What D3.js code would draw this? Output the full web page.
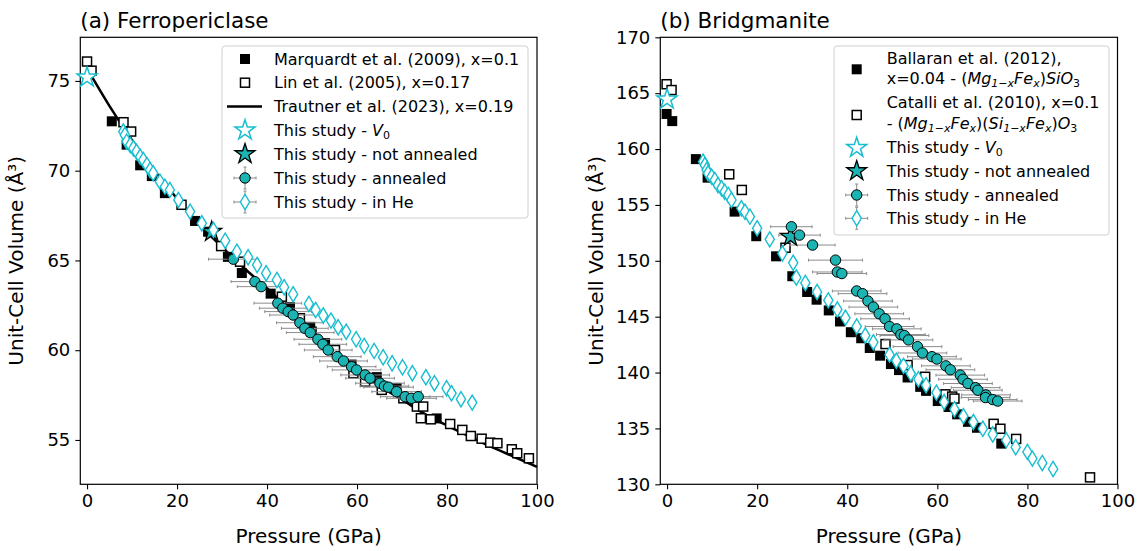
<!doctype html>
<html>
<head>
<meta charset="utf-8">
<script src="https://cdn.jsdelivr.net/npm/d3@7"></script>
<style>
  body { margin: 0; background: #fff; }
  svg { font-family: "DejaVu Sans", sans-serif; }
</style>
</head>
<body>
<svg id="chart" width="1143" height="551"></svg>
<script>
// ---------- (a) Ferropericlase ----------
const marqP = [5.5, 8.8, 11.8, 14.4, 17.3, 24.0, 26.9, 31.3, 34.4, 40.8, 45.1, 49.6, 52.9, 58.8, 64.4, 68.8, 77.7];
const marqV = [72.75, 71.45, 70.3, 69.7, 68.75, 67.2, 66.6, 65.2, 64.3, 63.15, 62.4, 61.3, 60.4, 59.2, 58.5, 57.9, 56.2];

const linP = [0, 1.0, 8.1, 9.8, 21.0, 29.8, 34.0, 43.3, 47.3, 49.9, 55.1, 59.2, 61.8, 65.5, 70.3, 73.3, 74.7, 74.2, 76.4, 80.7, 83.4, 85.3, 87.7, 89.6, 91.2, 94.4, 95.6, 98.2];
const linV = [76.08, 75.57, 72.7, 72.18, 68.1, 65.8, 64.93, 62.98, 61.78, 61.03, 60.01, 58.72, 58.25, 57.79, 57.32, 56.86, 56.86, 56.21, 56.15, 55.89, 55.56, 55.22, 55.07, 54.85, 54.82, 54.48, 54.26, 53.98];

const trautP = [0, 5, 10, 15, 20, 25, 30, 35, 40, 45, 50, 55, 60, 65, 70, 75, 80, 85, 90, 95, 100];
const trautV = [75.7, 73.6, 71.7, 70.0, 68.45, 67.0, 65.75, 64.55, 63.45, 62.25, 61.05, 59.9, 58.85, 58.0, 57.25, 56.45, 55.8, 55.2, 54.6, 54.05, 53.5];

const fpV0P = [0], fpV0V = [75.2];
const fpNaP = [27.7], fpNaV = [66.6];

const fpAnnP = [32.5, 37.3, 38.7, 42.4, 43.5, 44.7, 45.8, 47.3, 48.4, 49.6, 51.3, 52.4, 53.6, 55.6, 57.0, 58.8, 59.9, 61.8, 62.9, 65.1, 66.1, 67.0, 68.8, 70.7, 72.1, 73.6];
const fpAnnV = [65.07, 63.82, 63.54, 62.62, 62.34, 62.15, 61.96, 61.53, 61.22, 60.98, 60.61, 60.33, 60.01, 59.64, 59.40, 59.08, 58.90, 58.62, 58.44, 58.16, 58.0, 57.94, 57.69, 57.41, 57.32, 57.41];
const fpAnnErr = [5.5, 5.3, 5.3, 5.3, 5.2, 5.2, 5.2, 5.2, 5.2, 5.3, 5.3, 5.3, 5.3, 5.3, 5.3, 5.4, 5.4, 5.4, 5.4, 5.4, 5.4, 5.5, 5.5, 5.5, 5.5, 5.5];

const fpHeP = [8.07, 8.4, 8.8, 9.6, 10.3, 11.0, 11.8, 12.5, 13.3, 14.0, 14.7, 16.2, 17.3, 18.4, 20.3, 22.9, 25.5, 28.1, 30.7, 33.3, 35.8, 37.8, 39.8, 42.2, 43.8, 45.8, 49.3, 50.8, 52.5, 54.2, 55.8, 57.6, 59.8, 61.6, 63.8, 65.8, 67.8, 70.1, 72.3, 75.3, 77.2, 79.9, 81.0, 83.1, 85.6];
const fpHeV = [72.18, 71.99, 71.62, 71.43, 71.25, 71.06, 70.78, 70.60, 70.32, 70.04, 69.86, 69.39, 69.11, 68.93, 68.37, 67.72, 67.07, 66.70, 66.1, 65.49, 65.18, 64.75, 64.29, 63.91, 63.51, 63.12, 62.58, 62.24, 61.93, 61.65, 61.28, 61.03, 60.61, 60.24, 59.96, 59.61, 59.27, 59.05, 58.72, 58.49, 58.16, 57.88, 57.60, 57.27, 57.08];

// ---------- (b) Bridgmanite ----------
const balP = [-0.1, 1.15, 6.4, 9.0, 15.0, 19.8, 24.2, 27.8, 31.1, 33.2, 35.9, 38.4, 40.8, 43.1, 45.0, 47.3, 49.7, 51.5, 53.4, 56.2, 57.5, 60.1, 62.5, 64.4, 66.8, 68.8, 74.2];
const balV = [163.14, 162.5, 159.1, 157.44, 154.4, 152.2, 150.4, 148.62, 147.21, 146.52, 145.56, 144.57, 143.61, 143.07, 142.2, 141.51, 140.76, 140.22, 139.56, 138.72, 138.36, 137.45, 136.92, 136.26, 135.59, 135.06, 133.64];

const catP = [-0.1, 1.0, 13.8, 16.6, 26.3, 48.5, 53.4, 57.3, 61.8, 63.3, 63.8, 72.5, 74.0, 77.5, 93.9];
const catV = [165.8, 165.28, 157.74, 156.34, 151.17, 142.55, 140.67, 139.62, 138.05, 137.85, 137.67, 135.41, 134.97, 134.06, 130.62];

const bmV0P = [0], bmV0V = [164.45];
const bmNaP = [27.4], bmNaV = [152.16];

const bmAnnP = [27.6, 29.4, 32.3, 37.4, 37.8, 38.8, 42.1, 43.4, 44.6, 45.8, 47.1, 48.4, 49.4, 51.0, 51.9, 52.7, 53.6, 55.6, 56.7, 58.8, 59.9, 61.9, 62.9, 65.1, 65.7, 66.8, 68.5, 69.0, 70.8, 70.7, 72.3, 73.4];
const bmAnnV = [153.05, 152.3, 151.41, 150.06, 149.0, 148.86, 147.3, 147.06, 146.4, 145.86, 145.26, 144.81, 144.12, 143.91, 143.4, 143.31, 142.92, 142.32, 141.75, 141.42, 141.21, 140.6, 140.25, 139.77, 139.4, 139.02, 138.65, 138.42, 138.0, 137.76, 137.58, 137.45];
const bmAnnErr = [4.6, 4.6, 5.0, 6.0, 5.5, 5.5, 5.4, 5.4, 5.4, 5.4, 5.4, 5.4, 5.4, 5.4, 5.4, 5.4, 5.4, 5.4, 5.4, 5.4, 5.4, 5.4, 5.4, 5.4, 5.4, 5.4, 5.4, 5.4, 5.4, 5.4, 5.4, 5.4];

const bmHeP = [8.0, 8.4, 8.8, 9.1, 9.9, 10.6, 11.3, 12.1, 12.8, 13.6, 14.3, 16.5, 17.3, 18.4, 20.0, 22.8, 25.6, 28.0, 28.7, 30.7, 33.3, 35.8, 37.8, 39.6, 42.1, 44.0, 45.8, 49.4, 50.9, 52.5, 54.1, 55.8, 57.5, 59.8, 61.5, 63.8, 65.8, 68.0, 70.1, 72.3, 75.3, 77.4, 80.0, 81.1, 83.3, 85.7];
const bmHeV = [158.87, 158.57, 158.13, 157.83, 157.53, 157.23, 156.78, 156.49, 156.18, 155.89, 155.44, 154.70, 154.39, 153.95, 152.91, 151.92, 150.66, 149.82, 148.5, 148.02, 147.21, 146.46, 145.65, 144.9, 144.12, 143.31, 142.71, 141.6, 141.06, 140.6, 139.91, 139.4, 138.87, 138.2, 137.36, 136.71, 136.1, 135.57, 134.97, 134.46, 133.95, 133.32, 132.9, 132.3, 131.91, 131.37];

const xTicks = [0, 20, 40, 60, 80, 100];
const yTicksA = [55, 60, 65, 70, 75];
const yTicksB = [130, 135, 140, 145, 150, 155, 160, 165, 170];

const CYAN = "#17becf", TEAL = "#1cb3b3", GREY = "#8c8c8c";

const svg = d3.select("#chart");
const zip = (a, b, c) => a.map((p, i) => ({p: p, v: b[i], e: c ? c[i] : 0}));

function starPath(R) {
  const r = R * 0.382, pts = [];
  for (let k = 0; k < 10; k++) {
    const ang = -Math.PI / 2 + k * Math.PI / 5, rr = k % 2 ? r : R;
    pts.push([rr * Math.cos(ang), rr * Math.sin(ang)]);
  }
  return "M" + pts.map(d => d[0].toFixed(2) + "," + d[1].toFixed(2)).join("L") + "Z";
}
const diamondPath = (w, h) => `M0,${-h}L${w},0L0,${h}L${-w},0Z`;

function marker(g, type, x, y) {
  if (type === "fsq") g.append("rect").attr("x", x - 5).attr("y", y - 5).attr("width", 10).attr("height", 10).attr("fill", "#000");
  if (type === "osq") g.append("rect").attr("x", x - 4.5).attr("y", y - 4.5).attr("width", 9).attr("height", 9).attr("fill", "#fff").attr("stroke", "#000").attr("stroke-width", 1.5);
  if (type === "v0") g.append("path").attr("d", starPath(10.5)).attr("transform", `translate(${x},${y})`).attr("fill", "#fff").attr("stroke", CYAN).attr("stroke-width", 1.5);
  if (type === "na") g.append("path").attr("d", starPath(10.5)).attr("transform", `translate(${x},${y})`).attr("fill", TEAL).attr("stroke", "#000").attr("stroke-width", 1.3);
  if (type === "ann") g.append("circle").attr("cx", x).attr("cy", y).attr("r", 5.2).attr("fill", TEAL).attr("stroke", "#000").attr("stroke-width", 1);
  if (type === "he") g.append("path").attr("d", diamondPath(4.6, 7.6)).attr("transform", `translate(${x},${y})`).attr("fill", "#fff").attr("stroke", CYAN).attr("stroke-width", 1.4);
}

function errbars(g, pts, x, y) {
  pts.forEach(d => {
    if (!d.e) return;
    const x0 = x(d.p - d.e), x1 = x(d.p + d.e), yy = y(d.v);
    g.append("line").attr("x1", x0).attr("x2", x1).attr("y1", yy).attr("y2", yy).attr("stroke", GREY).attr("stroke-width", 1);
    [x0, x1].forEach(xx => g.append("line").attr("x1", xx).attr("x2", xx).attr("y1", yy - 1.5).attr("y2", yy + 1.5).attr("stroke", GREY).attr("stroke-width", 1));
  });
}

function scatter(g, pts, type, x, y) {
  pts.forEach(d => marker(g, type, x(d.p), y(d.v)));
}

function axes(x, y, yTicks, title, left, top, right, bottom) {
  const g = svg.append("g");
  g.append("g").attr("transform", `translate(0,${bottom})`)
    .call(d3.axisBottom(x).tickValues(xTicks).tickSize(5).tickPadding(5).tickFormat(d3.format("d")));
  g.append("g").attr("transform", `translate(${left},0)`)
    .call(d3.axisLeft(y).tickValues(yTicks).tickSize(5).tickPadding(5).tickFormat(d3.format("d")));
  g.selectAll(".domain").remove();
  g.selectAll(".tick line").attr("stroke", "#000").attr("stroke-width", 1.1);
  g.selectAll(".tick text").attr("font-size", 18).attr("font-family", "DejaVu Sans").attr("fill", "#000");
  g.append("rect").attr("x", left).attr("y", top).attr("width", right - left).attr("height", bottom - top)
    .attr("fill", "none").attr("stroke", "#000").attr("stroke-width", 1.2);
  g.append("text").attr("x", left).attr("y", 28).attr("font-size", 21.5).text(title);
  g.append("text").attr("x", (left + right) / 2).attr("y", 543).attr("text-anchor", "middle").attr("font-size", 20).text("Pressure (GPa)");
  g.append("text").attr("transform", `translate(${left - 57},${(top + bottom) / 2}) rotate(-90)`)
    .attr("text-anchor", "middle").attr("font-size", 20).text("Unit-Cell Volume (Å³)");
}

function richText(g, x, y, parts) {
  const t = g.append("text").attr("x", x).attr("y", y).attr("font-size", 16);
  parts.forEach(p => {
    const s = t.append("tspan").text(p.t);
    if (p.i) s.attr("font-style", "italic");
    if (p.sub) s.attr("font-size", 11).attr("dy", 3);
    if (p.up) s.attr("dy", -3);
  });
}

function legend(box, hx, tx, items) {
  const g = svg.append("g");
  g.append("rect").attr("x", box[0]).attr("y", box[1]).attr("width", box[2] - box[0]).attr("height", box[3] - box[1])
    .attr("rx", 3).attr("fill", "#fff").attr("fill-opacity", 0.85).attr("stroke", "#d0d0d0").attr("stroke-width", 1);
  items.forEach(it => {
    if (it.type === "line") {
      g.append("line").attr("x1", hx - 18).attr("x2", hx + 17).attr("y1", it.y).attr("y2", it.y).attr("stroke", "#000").attr("stroke-width", 2.5);
    } else {
      if (it.err) {
        g.append("line").attr("x1", hx - 11).attr("x2", hx + 11).attr("y1", it.y).attr("y2", it.y).attr("stroke", GREY);
        g.append("line").attr("x1", hx).attr("x2", hx).attr("y1", it.y - 11).attr("y2", it.y + 11).attr("stroke", GREY);
        [-11, 11].forEach(o => g.append("line").attr("x1", hx + o).attr("x2", hx + o).attr("y1", it.y - 1.5).attr("y2", it.y + 1.5).attr("stroke", GREY));
        [-11, 11].forEach(o => g.append("line").attr("x1", hx - 1.5).attr("x2", hx + 1.5).attr("y1", it.y + o).attr("y2", it.y + o).attr("stroke", GREY));
      }
      marker(g, it.type, hx, it.y);
    }
    it.lines.forEach(ln => richText(g, tx, ln.y, ln.parts));
  });
}

// ----- panel a -----
const xa = d3.scaleLinear().domain([-1.5, 100]).range([80.3, 537]);
const ya = d3.scaleLinear().domain([52.53, 77.43]).range([484.3, 37.3]);
axes(xa, ya, yTicksA, "(a) Ferropericlase", 80.3, 37.3, 537, 484.3);

const ga = svg.append("g");
ga.append("path").datum(zip(trautP, trautV))
  .attr("d", d3.line().x(d => xa(d.p)).y(d => ya(d.v)).curve(d3.curveMonotoneX))
  .attr("fill", "none").attr("stroke", "#000").attr("stroke-width", 2.5);
scatter(ga, zip(marqP, marqV), "fsq", xa, ya);
scatter(ga, zip(linP, linV), "osq", xa, ya);
scatter(ga, zip(fpV0P, fpV0V), "v0", xa, ya);
scatter(ga, zip(fpNaP, fpNaV), "na", xa, ya);
errbars(ga, zip(fpAnnP, fpAnnV, fpAnnErr), xa, ya);
scatter(ga, zip(fpAnnP, fpAnnV), "ann", xa, ya);
scatter(ga, zip(fpHeP, fpHeV), "he", xa, ya);

legend([222, 46, 528, 218], 245, 274, [
  {type: "fsq", y: 59, lines: [{y: 64.5, parts: [{t: "Marquardt et al. (2009), x=0.1"}]}]},
  {type: "osq", y: 82.7, lines: [{y: 88.2, parts: [{t: "Lin et al. (2005), x=0.17"}]}]},
  {type: "line", y: 106.5, lines: [{y: 112, parts: [{t: "Trautner et al. (2023), x=0.19"}]}]},
  {type: "v0", y: 130.3, lines: [{y: 135.8, parts: [{t: "This study - "}, {t: "V", i: true}, {t: "0", sub: true}]}]},
  {type: "na", y: 154, lines: [{y: 159.5, parts: [{t: "This study - not annealed"}]}]},
  {type: "ann", err: true, y: 178, lines: [{y: 183.5, parts: [{t: "This study - annealed"}]}]},
  {type: "he", err: true, y: 202, lines: [{y: 207.5, parts: [{t: "This study - in He"}]}]}
]);

// ----- panel b -----
const xb = d3.scaleLinear().domain([-1.5, 100]).range([660.3, 1117.5]);
const yb = d3.scaleLinear().domain([130, 170]).range([484.3, 37.3]);
axes(xb, yb, yTicksB, "(b) Bridgmanite", 660.3, 37.3, 1117.5, 484.3);

const gb = svg.append("g");
scatter(gb, zip(balP, balV), "fsq", xb, yb);
scatter(gb, zip(catP, catV), "osq", xb, yb);
scatter(gb, zip(bmV0P, bmV0V), "v0", xb, yb);
errbars(gb, zip(bmAnnP, bmAnnV, bmAnnErr), xb, yb);
scatter(gb, zip(bmNaP, bmNaV), "na", xb, yb);
scatter(gb, zip(bmAnnP, bmAnnV), "ann", xb, yb);
scatter(gb, zip(bmHeP, bmHeV), "he", xb, yb);

legend([834, 46, 1109, 235], 856.7, 886.7, [
  {type: "fsq", y: 69.3, lines: [
    {y: 63.5, parts: [{t: "Ballaran et al. (2012),"}]},
    {y: 83.5, parts: [{t: "x=0.04 - ("}, {t: "Mg", i: true}, {t: "1−x", sub: true, i: true}, {t: "Fe", i: true, up: true}, {t: "x", sub: true, i: true}, {t: ")", up: true}, {t: "SiO", i: true}, {t: "3", sub: true}]}]},
  {type: "osq", y: 115, lines: [
    {y: 107.5, parts: [{t: "Catalli et al. (2010), x=0.1"}]},
    {y: 129, parts: [{t: "- ("}, {t: "Mg", i: true}, {t: "1−x", sub: true, i: true}, {t: "Fe", i: true, up: true}, {t: "x", sub: true, i: true}, {t: ")(", up: true}, {t: "Si", i: true}, {t: "1−x", sub: true, i: true}, {t: "Fe", i: true, up: true}, {t: "x", sub: true, i: true}, {t: ")", up: true}, {t: "O", i: true}, {t: "3", sub: true}]}]},
  {type: "v0", y: 147.7, lines: [{y: 153.2, parts: [{t: "This study - "}, {t: "V", i: true}, {t: "0", sub: true}]}]},
  {type: "na", y: 171, lines: [{y: 176.5, parts: [{t: "This study - not annealed"}]}]},
  {type: "ann", err: true, y: 195, lines: [{y: 200.5, parts: [{t: "This study - annealed"}]}]},
  {type: "he", err: true, y: 218.3, lines: [{y: 223.8, parts: [{t: "This study - in He"}]}]}
]);
</script>
</body>
</html>
